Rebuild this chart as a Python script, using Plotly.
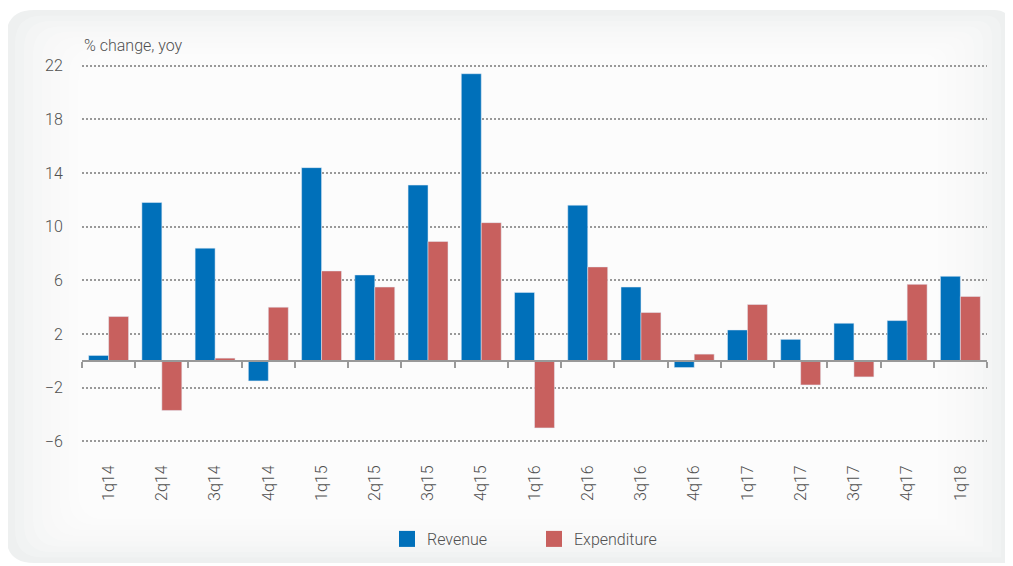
import plotly.graph_objects as go

# quarterly revenue / expenditure growth, % change yoy
quarters = ["1q14", "2q14", "3q14", "4q14", "1q15", "2q15", "3q15", "4q15", "1q16",
            "2q16", "3q16", "4q16", "1q17", "2q17", "3q17", "4q17", "1q18"]
revenue = [0.4, 11.8, 8.4, -1.5, 14.4, 6.4, 13.1, 21.4, 5.1,
           11.6, 5.5, -0.5, 2.3, 1.6, 2.8, 3.0, 6.3]
expenditure = [3.3, -3.7, 0.2, 4.0, 6.7, 5.5, 8.9, 10.3, -5.0,
               7.0, 3.6, 0.5, 4.2, -1.8, -1.2, 5.7, 4.8]
y_ticks = [-6, -2, 2, 6, 10, 14, 18, 22]
y_range = [-6.2, 22.2]

BLUE = "#0070ba"
RED = "#c8605e"
GRID = "#999999"
TEXT = "#505050"
FONT = "Roboto"

# the page body adds an 8px margin, so the figure is laid out 8px smaller
OFF = 8
W, H = 1013 - OFF, 566 - OFF
ML, MR, MT, MB = 82 - OFF, 26, 63 - OFF, 122


def px(x, y):
    # window pixel position -> paper fraction
    x, y = x - OFF, y - OFF
    return ((x - ML) / (W - ML - MR), 1 - (y - MT) / (H - MT - MB))


def panel(x0, y0, x1, y1, r_tl, r_tr, r_bl):
    def p(x, y):
        a, b = px(x, y)
        return f"{a:.5f},{b:.5f}"
    d = f"M {p(x0, y0 + r_tl)} Q {p(x0, y0)} {p(x0 + r_tl, y0)} "
    d += f"L {p(x1 - r_tr, y0)} Q {p(x1, y0)} {p(x1, y0 + r_tr)} "
    d += f"L {p(x1, y1)} L {p(x0 + r_bl, y1)} Q {p(x0, y1)} {p(x0, y1 - r_bl)} Z"
    return d


shapes = [dict(type="path", xref="paper", yref="paper", layer="below",
               path=panel(6, 10, 1010, 563, 28, 16, 28),
               fillcolor="#eef0f0", line=dict(width=0))]
# soft lighter centre to mimic the gradient
for i in range(1, 9):
    k = i * 9
    shapes.append(dict(type="path", xref="paper", yref="paper", layer="below",
                       path=panel(6 + k, 10 + k * 0.6, 1010 - k, 563 - k * 0.6, 28, 16, 28),
                       fillcolor="white", opacity=0.22, line=dict(width=0)))

fig = go.Figure()
fig.add_trace(go.Bar(x=quarters, y=revenue, name="Revenue", marker_color=BLUE,
                     showlegend=False))
fig.add_trace(go.Bar(x=quarters, y=expenditure, name="Expenditure", marker_color=RED,
                     showlegend=False))
# legend swatches
fig.add_trace(go.Scatter(x=[None], y=[None], mode="markers", name="Revenue",
                         marker=dict(symbol="square", size=16, color=BLUE)))
fig.add_trace(go.Scatter(x=[None], y=[None], mode="markers", name="Expenditure",
                         marker=dict(symbol="square", size=16, color=RED)))
# carrier for the zero axis with category separators
fig.add_trace(go.Scatter(x=quarters, y=revenue, mode="none", xaxis="x2",
                         showlegend=False, hoverinfo="skip"))

fig.update_layout(
    width=W, height=H,
    margin=dict(l=ML, r=MR, t=MT, b=MB, autoexpand=False),
    paper_bgcolor="white",
    plot_bgcolor="rgba(0,0,0,0)",
    font=dict(family=FONT, size=16, color=TEXT, weight=300),
    barmode="group",
    bargap=0.25,
    bargroupgap=0,
    shapes=shapes,
    xaxis=dict(categoryorder="array", categoryarray=quarters, automargin=False,
               tickangle=-90, showgrid=False, showline=False, zeroline=False,
               ticks="outside", ticklen=14, tickcolor="rgba(0,0,0,0)",
               tickfont=dict(size=16, color=TEXT, weight=300)),
    xaxis2=dict(matches="x", overlaying="x", anchor="free", automargin=False,
                position=-y_range[0] / (y_range[1] - y_range[0]),
                showline=True, linecolor=GRID, linewidth=2,
                ticks="outside", tickson="boundaries", ticklen=6, tickwidth=2,
                tickcolor=GRID, showticklabels=False, showgrid=False, zeroline=False),
    yaxis=dict(range=y_range, tickvals=y_ticks, showgrid=True, automargin=False,
               gridcolor=GRID, gridwidth=2, griddash="2px,2px", zeroline=False,
               ticks="outside", ticklen=15, tickcolor="rgba(0,0,0,0)",
               tickfont=dict(size=16, color=TEXT, weight=300)),
    legend=dict(orientation="h", xref="container", yref="container",
                x=(387 - OFF) / W, xanchor="left",
                y=1 - (522 - OFF) / H, yanchor="top",
                font=dict(size=16, color=TEXT, weight=300), bgcolor="rgba(0,0,0,0)",
                entrywidth=102, entrywidthmode="pixels",
                itemwidth=30, tracegroupgap=0),
    annotations=[dict(text="% change, yoy", xref="paper", yref="paper", x=0, y=1,
                      xanchor="left", yanchor="bottom", yshift=6, showarrow=False,
                      font=dict(size=16, color=TEXT, weight=300))],
)

fig.write_html("out.html")
